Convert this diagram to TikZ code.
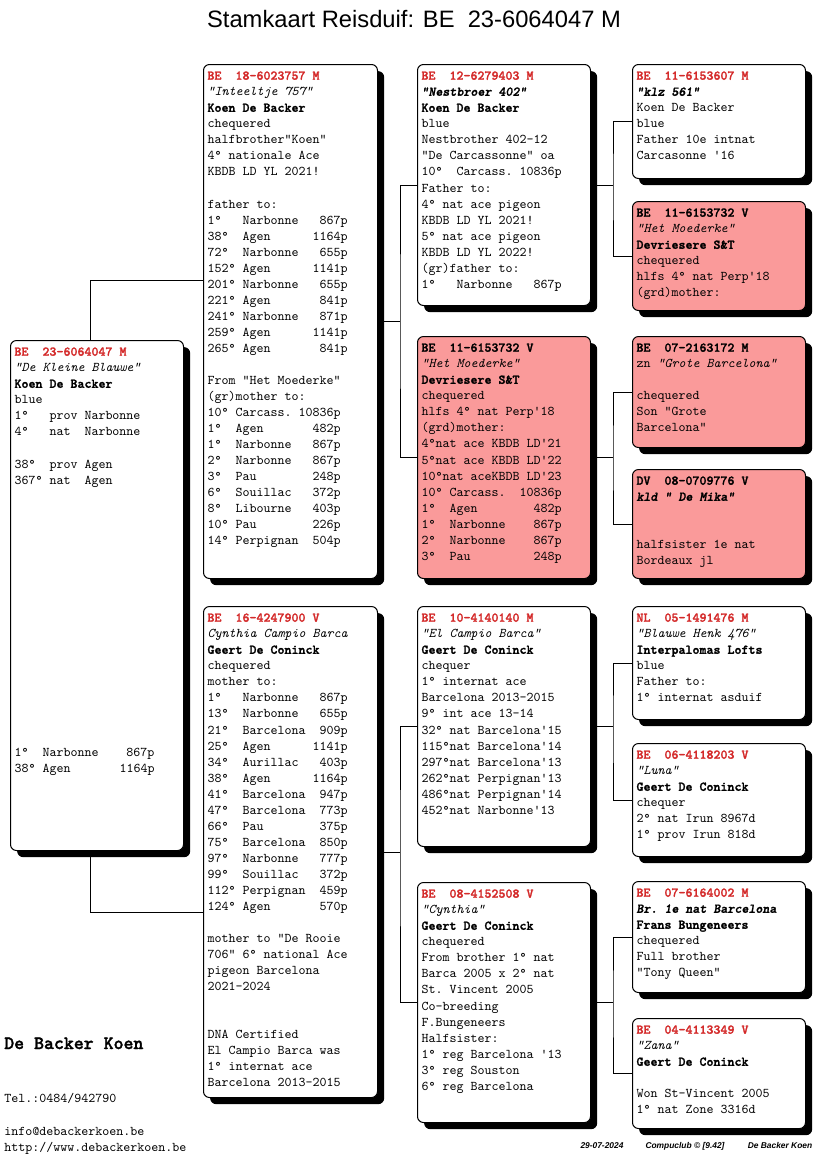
\documentclass[tikz,border=0pt]{standalone}
\usepackage{fontspec}
\setsansfont{Liberation Sans}
\setmonofont{lmmono10-regular.otf}[
  ItalicFont=lmmono10-italic.otf,
  BoldFont=lmmonolt10-bold.otf,
  BoldItalicFont=lmmonolt10-boldoblique.otf,
  BoldFeatures={FakeBold=1.6},
  BoldItalicFeatures={FakeBold=1.6}]
\usepackage{tikz}
\usetikzlibrary{shadows,calc}
\usepackage{xcolor}
\definecolor{ringred}{HTML}{D42A2A}
\definecolor{cardred}{HTML}{FA9A9A}
\newcommand{\cardfont}{\ttfamily\fontsize{10pt}{12.03pt}\selectfont}
\newcommand{\ring}[1]{\textcolor{ringred}{\textbf{#1}}}
% width and height in px, then the lines
\newcommand{\cardbody}[3]{\parbox[c][\dimexpr#2pt*3/4-6pt\relax][t]{\dimexpr#1pt*3/4-6pt\relax}{\raggedright\strut#3}}
\tikzset{
  card/.style={draw=black, line width=0.75pt, rounded corners=4.5pt, fill=white, anchor=north west, inner sep=3pt, font=\cardfont,
    drop shadow={shadow xshift=5pt, shadow yshift=-5pt, fill=black, opacity=1}},
  redcard/.style={card, fill=cardred},
  link/.style={draw=black, line width=0.75pt},
  sidetext/.style={anchor=base west, inner sep=0pt, font=\cardfont},
  stamp/.style={anchor=base, inner sep=0pt, font=\sffamily\bfseries\itshape\fontsize{6.3pt}{7pt}\selectfont}
}

\begin{document}
\begin{tikzpicture}[x=0.75pt, y=-0.75pt]
  \useasboundingbox (0,0) rectangle (816,1172);
  \fill[white] (0,0) rectangle (816,1172);

  \node[anchor=base, inner sep=0pt, font=\sffamily\fontsize{17.8pt}{20pt}\selectfont] (title) at (414,27) {Stamkaart Reisduif: BE~~23-6064047 M};

  % subject
  \node[card] (s) at (10,340) {\cardbody{173}{510}{%
    \ring{BE~~23-6064047~M}\\
    \textit{"De Kleine Blauwe"}\\
    \textbf{Koen De Backer}\\
    blue\\
    1°~~~prov Narbonne\\
    4°~~~nat~~Narbonne\\[\baselineskip]
    38°~~prov Agen\\
    367°~nat~~Agen\\[16\baselineskip]
    1°~~Narbonne~~~~867p\\
    38°~Agen~~~~~~~1164p}};

  % parents
  \node[card] (f) at (203,64) {\cardbody{174}{514}{%
    \ring{BE~~18-6023757~M}\\
    \textit{"Inteeltje 757"}\\
    \textbf{Koen De Backer}\\
    chequered\\
    halfbrother"Koen"\\
    4° nationale Ace\\
    KBDB LD YL 2021!\\[\baselineskip]
    father to:\\
    1°~~~Narbonne~~~867p\\
    38°~~Agen~~~~~~1164p\\
    72°~~Narbonne~~~655p\\
    152°~Agen~~~~~~1141p\\
    201°~Narbonne~~~655p\\
    221°~Agen~~~~~~~841p\\
    241°~Narbonne~~~871p\\
    259°~Agen~~~~~~1141p\\
    265°~Agen~~~~~~~841p\\[\baselineskip]
    From "Het Moederke"\\
    (gr)mother to:\\
    10°~Carcass.~10836p\\
    1°~~Agen~~~~~~~482p\\
    1°~~Narbonne~~~867p\\
    2°~~Narbonne~~~867p\\
    3°~~Pau~~~~~~~~248p\\
    6°~~Souillac~~~372p\\
    8°~~Libourne~~~403p\\
    10°~Pau~~~~~~~~226p\\
    14°~Perpignan~~504p}};

  \node[card] (m) at (203,606) {\cardbody{174}{491}{%
    \ring{BE~~16-4247900~V}\\
    \textit{Cynthia Campio Barca}\\
    \textbf{Geert De Coninck}\\
    chequered\\
    mother to:\\
    1°~~~Narbonne~~~867p\\
    13°~~Narbonne~~~655p\\
    21°~~Barcelona~~909p\\
    25°~~Agen~~~~~~1141p\\
    34°~~Aurillac~~~403p\\
    38°~~Agen~~~~~~1164p\\
    41°~~Barcelona~~947p\\
    47°~~Barcelona~~773p\\
    66°~~Pau~~~~~~~~375p\\
    75°~~Barcelona~~850p\\
    97°~~Narbonne~~~777p\\
    99°~~Souillac~~~372p\\
    112°~Perpignan~~459p\\
    124°~Agen~~~~~~~570p\\[\baselineskip]
    mother to "De Rooie\\
    706" 6° national Ace\\
    pigeon Barcelona\\
    2021-2024\\[2\baselineskip]
    DNA Certified\\
    El Campio Barca was\\
    1° internat ace\\
    Barcelona 2013-2015}};

  % grandparents
  \node[card] (ff) at (417,64) {\cardbody{173}{241}{%
    \ring{BE~~12-6279403~M}\\
    \textbf{\textit{"Nestbroer 402"}}\\
    \textbf{Koen De Backer}\\
    blue\\
    Nestbrother 402-12\\
    "De Carcassonne" oa\\
    10°~~Carcass.~10836p\\
    Father to:\\
    4° nat ace pigeon\\
    KBDB LD YL 2021!\\
    5° nat ace pigeon\\
    KBDB LD YL 2022!\\
    (gr)father to:\\
    1°~~~Narbonne~~~867p}};

  \node[redcard] (fm) at (417,336) {\cardbody{173}{242}{%
    \textbf{BE~~11-6153732~V}\\
    \textit{"Het Moederke"}\\
    \textbf{Devriesere S\&T}\\
    chequered\\
    hlfs 4° nat Perp'18\\
    (grd)mother:\\
    4°nat ace KBDB LD'21\\
    5°nat ace KBDB LD'22\\
    10°nat aceKBDB LD'23\\
    10°~Carcass.~~10836p\\
    1°~~Agen~~~~~~~~482p\\
    1°~~Narbonne~~~~867p\\
    2°~~Narbonne~~~~867p\\
    3°~~Pau~~~~~~~~~248p}};

  \node[card] (mf) at (417,606) {\cardbody{173}{240}{%
    \ring{BE~~10-4140140~M}\\
    \textit{"El Campio Barca"}\\
    \textbf{Geert De Coninck}\\
    chequer\\
    1° internat ace\\
    Barcelona 2013-2015\\
    9° int ace 13-14\\
    32° nat Barcelona'15\\
    115°nat Barcelona'14\\
    297°nat Barcelona'13\\
    262°nat Perpignan'13\\
    486°nat Perpignan'14\\
    452°nat Narbonne'13}};

  \node[card] (mm) at (417,882) {\cardbody{173}{240}{%
    \ring{BE~~08-4152508~V}\\
    \textit{"Cynthia"}\\
    \textbf{Geert De Coninck}\\
    chequered\\
    From brother 1° nat\\
    Barca 2005 x 2° nat\\
    St. Vincent 2005\\
    Co-breeding\\
    F.Bungeneers\\
    Halfsister:\\
    1° reg Barcelona '13\\
    3° reg Souston\\
    6° reg Barcelona}};

  % great-grandparents
  \node[card] (fff) at (632,64) {\cardbody{173}{114}{%
    \ring{BE~~11-6153607~M}\\
    \textbf{\textit{"klz 561"}}\\
    Koen De Backer\\
    blue\\
    Father 10e intnat\\
    Carcasonne '16}};

  \node[redcard] (ffm) at (632,201) {\cardbody{173}{109}{%
    \textbf{BE~~11-6153732~V}\\
    \textit{"Het Moederke"}\\
    \textbf{Devriesere S\&T}\\
    chequered\\
    hlfs 4° nat Perp'18\\
    (grd)mother:}};

  \node[redcard] (fmf) at (632,336) {\cardbody{173}{111}{%
    \textbf{BE~~07-2163172~M}\\
    zn \textit{"Grote Barcelona"}\\[\baselineskip]
    chequered\\
    Son "Grote\\
    Barcelona"}};

  \node[redcard] (fmm) at (632,469) {\cardbody{173}{109}{%
    \textbf{DV~~08-0709776~V}\\
    \textbf{\textit{kld " De Mika"}}\\[2\baselineskip]
    halfsister 1e nat\\
    Bordeaux jl}};

  \node[card] (mff) at (632,606) {\cardbody{173}{113}{%
    \ring{NL~~05-1491476~M}\\
    \textit{"Blauwe Henk 476"}\\
    \textbf{Interpalomas Lofts}\\
    blue\\
    Father to:\\
    1° internat asduif}};

  \node[card] (mfm) at (632,743) {\cardbody{173}{113}{%
    \ring{BE~~06-4118203~V}\\
    \textit{"Luna"}\\
    \textbf{Geert De Coninck}\\
    chequer\\
    2° nat Irun 8967d\\
    1° prov Irun 818d}};

  \node[card] (mmf) at (632,881) {\cardbody{173}{111}{%
    \ring{BE~~07-6164002~M}\\
    \textbf{\textit{Br. 1e nat Barcelona}}\\
    \textbf{Frans Bungeneers}\\
    chequered\\
    Full brother\\
    "Tony Queen"}};

  \node[card] (mmm) at (632,1018) {\cardbody{173}{110}{%
    \ring{BE~~04-4113349~V}\\
    \textit{"Zana"}\\
    \textbf{Geert De Coninck}\\[\baselineskip]
    Won St-Vincent 2005\\
    1° nat Zone 3316d}};

  % connectors
  \draw[link] ($(s.north west)+(80,0)$) |- ($(f.north west)+(0,216)$);
  \draw[link] ($(s.south west)+(80,0)$) |- ($(m.north west)+(0,306)$);
  \foreach \p/\a/\b in {f/ff/fm, m/mf/mm, ff/fff/ffm, fm/fmf/fmm, mf/mff/mfm, mm/mmf/mmm}{
    \coordinate (\p-j) at ($(\p.east)+(22,0)$);
    \draw[link] (\p.east) -- (\p-j);
    \draw[link] (\a.west) -| (\p-j) |- (\b.west);
  }

  % owner and footer
  \node[sidetext, font=\ttfamily\bfseries\fontsize{14.2pt}{16pt}\selectfont] (owner) at (4,1049) {De Backer Koen};
  \node[sidetext] (tel) at (4,1102) {Tel.:0484/942790};
  \node[sidetext] (mail) at (4,1135) {info@debackerkoen.be};
  \node[sidetext] (web) at (4,1151) {http://www.debackerkoen.be};
  \node[stamp] (date) at (602,1148) {29-07-2024};
  \node[stamp] (prog) at (685,1148) {Compuclub © [9.42]};
  \node[stamp] (author) at (780,1148) {De Backer Koen};
\end{tikzpicture}
\end{document}
